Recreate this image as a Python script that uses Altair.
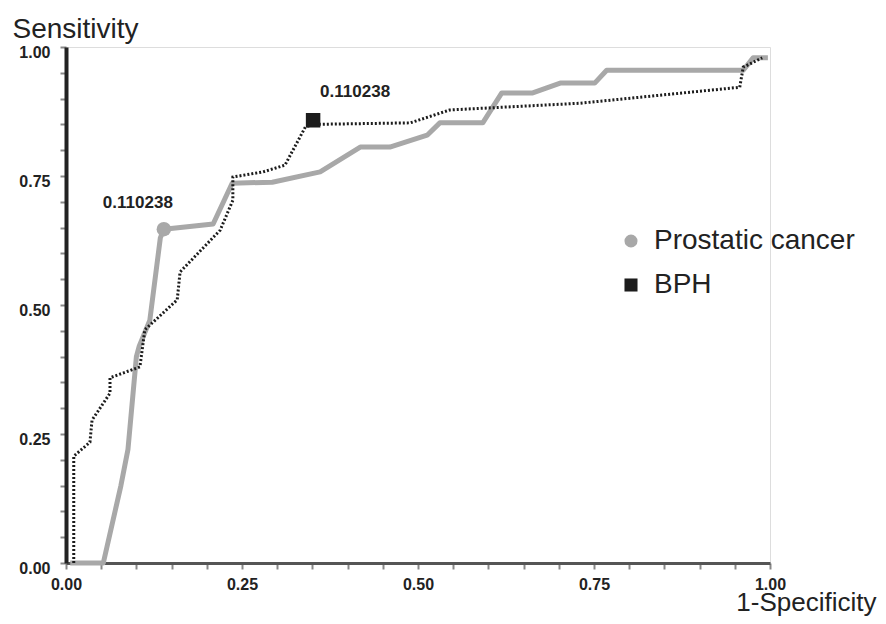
import altair as alt
import pandas as pd

# ---- data ----
pc_x = [0.006, 0.053, 0.078, 0.088, 0.100, 0.104, 0.119, 0.134, 0.139, 0.209, 0.236, 0.293, 0.361,
        0.418, 0.460, 0.513, 0.531, 0.592, 0.619, 0.663, 0.702, 0.751, 0.768, 0.962, 0.976, 0.997]
pc_y = [0.000, 0.000, 0.150, 0.220, 0.400, 0.420, 0.470, 0.630, 0.647, 0.657, 0.736, 0.738, 0.758,
        0.806, 0.806, 0.829, 0.853, 0.853, 0.911, 0.911, 0.930, 0.930, 0.955, 0.955, 0.979, 0.979]

bph_x = [0.011, 0.011, 0.034, 0.037, 0.0625, 0.0625, 0.105, 0.112, 0.158, 0.162, 0.219, 0.237, 0.237,
         0.280, 0.311, 0.340, 0.351, 0.489, 0.545, 0.730, 0.957, 0.962, 0.989]
bph_y = [0.000, 0.207, 0.234, 0.277, 0.329, 0.359, 0.380, 0.452, 0.510, 0.564, 0.645, 0.703, 0.748,
         0.758, 0.771, 0.845, 0.850, 0.853, 0.878, 0.891, 0.922, 0.961, 0.979]

series = ["Prostatic cancer", "BPH"]
cut_x = [0.139, 0.351]
cut_y = [0.647, 0.858]
cut_label = ["0.110238", "0.110238"]

tick_vals = [round(i * 0.05, 2) for i in range(21)]

FONT = "Liberation Sans"
GRAY = "#a8a8a8"
DARK = "#1c1c1c"

pc_df = pd.DataFrame({"x": pc_x, "y": pc_y, "i": range(len(pc_x))})
bph_df = pd.DataFrame({"x": bph_x, "y": bph_y, "i": range(len(bph_x))})
cuts = pd.DataFrame({"x": cut_x, "y": cut_y, "series": series, "label": cut_label})

label_expr = "(abs(datum.value*4 - round(datum.value*4)) < 0.001) ? format(datum.value, '.2f') : ''"

xscale = alt.Scale(domain=[0, 1], nice=False, zero=False)
yscale = alt.Scale(domain=[0, 1], nice=False, zero=False)

xaxis = alt.Axis(values=tick_vals, labelExpr=label_expr, grid=False, labelOverlap=False,
                 title="1-Specificity", titleFont=FONT, titleFontSize=26, titleFontWeight="normal",
                 titleColor="#222", titleAnchor="end", titleAlign="right", titleX=810, titleY=47,
                 titleBaseline="alphabetic",
                 labelFont=FONT, labelFontSize=16, labelFontWeight="bold", labelColor="#222",
                 labelPadding=7, labelFlush=False,
                 domainColor="#555", domainWidth=3, tickColor="#888", tickWidth=2, tickSize=6)
yaxis = alt.Axis(values=tick_vals, labelExpr=label_expr, grid=False, labelOverlap=False,
                 title="Sensitivity", titleFont=FONT, titleFontSize=28, titleFontWeight="normal",
                 titleColor="#222", titleAngle=0, titleAlign="left", titleX=-54, titleY=-10,
                 titleBaseline="alphabetic",
                 labelFont=FONT, labelFontSize=16, labelFontWeight="bold", labelColor="#222",
                 labelPadding=10, labelOffset=5, labelFlush=False,
                 domainColor="#222", domainWidth=4, tickColor="#888", tickWidth=2, tickSize=6)

X = alt.X("x:Q", scale=xscale, axis=xaxis)
Y = alt.Y("y:Q", scale=yscale, axis=yaxis)

line_pc = alt.Chart(pc_df).mark_line(color=GRAY, strokeWidth=5, strokeJoin="round").encode(
    x=X, y=Y, order="i:Q")
line_bph = alt.Chart(bph_df).mark_line(color=DARK, strokeWidth=3, strokeDash=[2, 2]).encode(
    x=X, y=Y, order="i:Q")

legend = alt.Legend(title=None, orient="none", legendX=551, legendY=180, padding=0,
                    labelFont=FONT, labelFontSize=28, labelColor="#222", labelLimit=400,
                    symbolSize=170, rowPadding=16, labelOffset=9,
                    symbolStrokeWidth=0)

color_scale = alt.Scale(domain=series, range=[GRAY, DARK])

point_layer = alt.Chart(cuts).mark_point(filled=True, opacity=1, strokeWidth=0, size=210).encode(
    x=X, y=Y,
    fill=alt.Fill("series:N", scale=color_scale, legend=legend),
    shape=alt.Shape("series:N", scale=alt.Scale(domain=series, range=["circle", "square"]), legend=legend),
)

text_pc = alt.Chart(cuts[cuts.series == series[0]]).mark_text(
    font=FONT, fontSize=17, fontWeight="bold", color="#222", dx=-26, dy=-26
).encode(x=X, y=Y, text="label:N")

text_bph = alt.Chart(cuts[cuts.series == series[1]]).mark_text(
    font=FONT, fontSize=17, fontWeight="bold", color="#222", dx=42, dy=-28
).encode(x=X, y=Y, text="label:N")

chart = alt.layer(line_pc, line_bph, point_layer, text_pc, text_bph).properties(
    width=704, height=516,
    autosize=alt.AutoSizeParams(type="none"),
    padding={"left": 58, "top": 39, "right": 108, "bottom": 53},
).configure_view(stroke=None).configure_axis(labelOverlap=False).configure(background="white")

chart.save("out.html", embed_options={"renderer": "svg", "actions": False})
